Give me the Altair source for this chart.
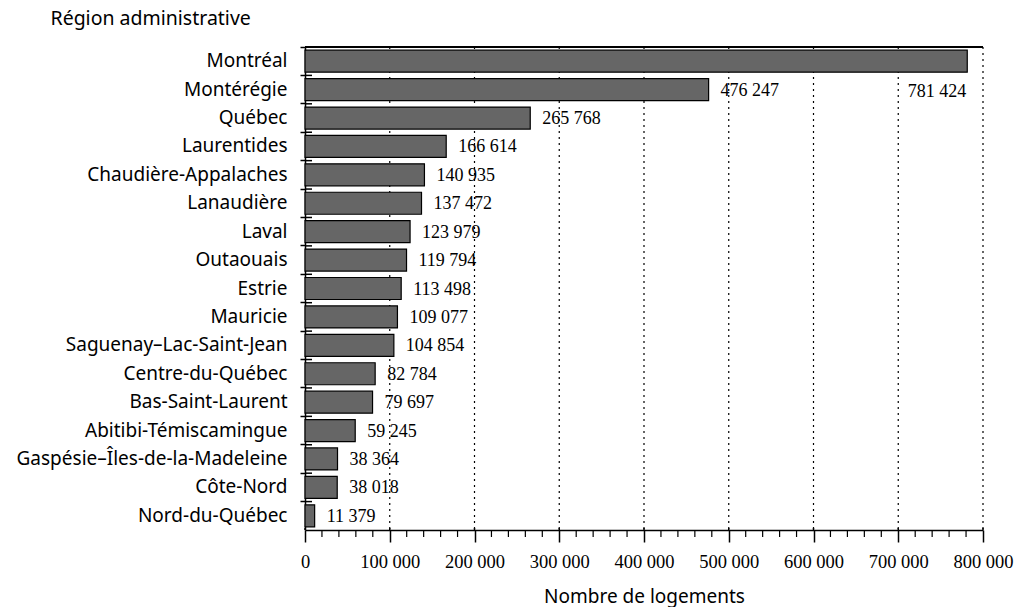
import altair as alt
import pandas as pd

regions = [
    "Montréal", "Montérégie", "Québec", "Laurentides", "Chaudière-Appalaches",
    "Lanaudière", "Laval", "Outaouais", "Estrie", "Mauricie",
    "Saguenay–Lac-Saint-Jean", "Centre-du-Québec", "Bas-Saint-Laurent",
    "Abitibi-Témiscamingue", "Gaspésie–Îles-de-la-Madeleine", "Côte-Nord",
    "Nord-du-Québec",
]
logements = [
    781424, 476247, 265768, 166614, 140935,
    137472, 123979, 119794, 113498, 109077,
    104854, 82784, 79697,
    59245, 38364, 38018,
    11379,
]
labels = [
    "781 424", "476 247", "265 768", "166 614", "140 935",
    "137 472", "123 979", "119 794", "113 498", "109 077",
    "104 854", "82 784", "79 697",
    "59 245", "38 364", "38 018",
    "11 379",
]
major_ticks = [0, 100000, 200000, 300000, 400000, 500000, 600000, 700000, 800000]
minor_ticks = [v for v in range(0, 800001, 20000) if v % 100000 != 0]

df = pd.DataFrame({"region": regions, "n": logements, "lab": labels})
grid_df = pd.DataFrame({"v": major_ticks[1:]})
major_df = pd.DataFrame({"v": major_ticks})
minor_df = pd.DataFrame({"v": minor_ticks})

W, H = 678, 483
SANS = "Noto Sans"
SERIF = "Liberation Serif"

xscale = alt.Scale(domain=[0, 800000], nice=False, zero=True)
yscale = alt.Scale(domain=regions, paddingInner=0, paddingOuter=0)

x_axis = alt.Axis(
    values=major_ticks, grid=False,
    labelExpr="replace(format(datum.value, ',d'), /,/g, ' ')",
    labelFlush=False, labelOverlap=False,
    title="Nombre de logements", titleY=72,
)
y_axis = alt.Axis(
    bandPosition=0, labelLimit=400,
    title="Région administrative", titleAngle=0,
    titleAlign="left", titleBaseline="middle", titleX=-255, titleY=-29,
)

bars = alt.Chart(df).mark_bar(
    size=22, color="#666666", stroke="black", strokeWidth=1.2
).encode(
    x=alt.X("n:Q", scale=xscale, axis=x_axis),
    y=alt.Y("region:N", scale=yscale, sort=regions, axis=y_axis),
)

grid = alt.Chart(grid_df).mark_rule(color="black", strokeDash=[2, 4], strokeWidth=1.2).encode(
    x=alt.X("v:Q", scale=xscale, axis=x_axis),
    y=alt.value(0), y2=alt.value(H),
)

top_line = alt.Chart(major_df).mark_rule(color="black", strokeWidth=1).encode(
    x=alt.value(0), x2=alt.value(W), y=alt.value(0)
)

inner_ticks = alt.Chart(df).mark_rule(color="black", strokeWidth=1.5).encode(
    y=alt.Y("region:N", scale=yscale, sort=regions, bandPosition=0, axis=y_axis),
    x=alt.value(0), x2=alt.value(7),
)

major_up = alt.Chart(major_df).mark_rule(color="black", strokeWidth=1.5).encode(
    x=alt.X("v:Q", scale=xscale, axis=x_axis),
    y=alt.value(H - 2), y2=alt.value(H),
)

minor = alt.Chart(minor_df).mark_rule(color="black", strokeWidth=1.2).encode(
    x=alt.X("v:Q", scale=xscale, axis=x_axis),
    y=alt.value(H), y2=alt.value(H + 7),
)

text_norm = alt.Chart(df).transform_filter("datum.n < 700000").mark_text(
    align="left", baseline="middle", dx=12, dy=1, font=SERIF, fontSize=18, color="black"
).encode(
    x=alt.X("n:Q", scale=xscale, axis=x_axis),
    y=alt.Y("region:N", scale=yscale, sort=regions, axis=y_axis),
    text="lab:N",
)

text_big = alt.Chart(df).transform_filter("datum.n >= 700000").mark_text(
    align="right", baseline="middle", dx=-1, dy=31, font=SERIF, fontSize=18, color="black"
).encode(
    x=alt.X("n:Q", scale=xscale, axis=x_axis),
    y=alt.Y("region:N", scale=yscale, sort=regions, axis=y_axis),
    text="lab:N",
)

chart = alt.layer(
    grid, top_line, bars, inner_ticks, major_up, minor, text_norm, text_big
).properties(
    width=W, height=H,
    autosize=alt.AutoSizeParams(type="none"),
    padding={"left": 305, "top": 47, "right": 48, "bottom": 77},
    background="white",
).configure_view(strokeWidth=0).configure_axis(
    domainColor="black", domainWidth=1.5, tickColor="black", tickWidth=1.5,
    labelColor="black", titleColor="black", titleFontWeight="normal",
    titleFont=SANS, titleFontSize=19,
).configure_axisX(
    tickSize=12, labelFont=SERIF, labelFontSize=18.5,
    labelBaseline="middle", labelPadding=19, titleBaseline="alphabetic",
).configure_axisY(
    tickSize=5, labelFont=SANS, labelFontSize=19, labelPadding=13,
    titleFontSize=19.5,
)

chart.save("out.html", embed_options={"renderer": "svg", "actions": False})
